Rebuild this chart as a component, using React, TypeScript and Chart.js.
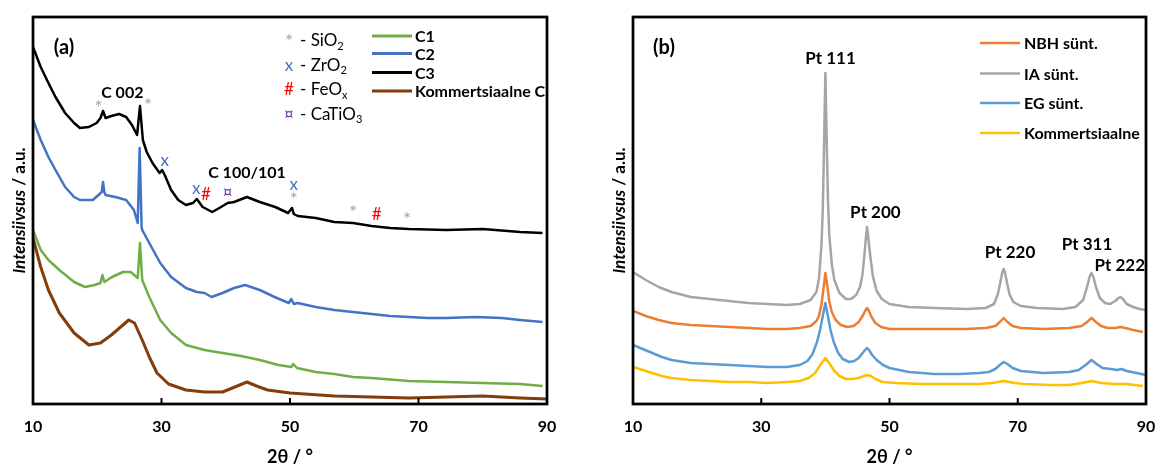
import React, { useEffect, useRef } from "react";
import { Chart, registerables } from "chart.js";
Chart.register(...registerables);

const FONT = "Lato, 'DejaVu Sans', sans-serif";

// ---------- Panel (a) data ----------
const aC1_x = [10, 11.2, 12.4, 14.1, 16.4, 18.1, 19.6, 20.5, 20.8, 21.1, 22.3, 24, 25.2, 26.3, 26.65, 27.0, 28.1, 29.8, 31.5, 33.8, 36.7, 39.5, 42.4, 45.3, 48.2, 50.2, 50.5, 51.1, 54, 56.9, 59.8, 62.7, 68.5, 74.3, 80, 85.8, 89.3];
const aC1_y = [174, 154, 144, 134, 122, 117, 119, 121, 129, 122, 127, 132, 132, 126, 161, 124, 107, 84, 71, 59, 54, 51, 48, 44, 39, 37, 40, 36, 32, 30, 27, 26, 23, 22, 21, 20, 18];

const aC2_x = [10, 11.2, 12.4, 13.5, 15, 16.4, 17.3, 19.3, 20.2, 20.7, 20.9, 21.1, 21.3, 22.8, 24.5, 25.7, 26.3, 26.6, 26.9, 27, 28.1, 29.8, 31.5, 33.8, 35.5, 36.7, 37.8, 39.5, 41.3, 43, 45.3, 47.6, 49.8, 50.2, 50.6, 51.2, 54, 56.9, 59.8, 62.7, 65.6, 68.5, 71.4, 74.3, 78.9, 83, 85.8, 89.3];
const aC2_y = [284, 264, 247, 234, 217, 207, 204, 204, 209, 212, 222, 212, 209, 207, 204, 194, 181, 256, 177, 174, 161, 141, 127, 116, 112, 111, 107, 111, 116, 119, 114, 107, 101, 105, 100, 101, 97, 94, 92, 90, 88, 87, 86, 86, 87, 86, 84, 82];

const aC3_x = [10, 11.2, 12.4, 13.5, 15, 16.4, 17.3, 18.7, 19.9, 20.5, 20.9, 21.3, 22.2, 23.4, 24.5, 25.4, 26.2, 26.65, 27.1, 27.7, 28.6, 29.7, 30.1, 30.5, 31.5, 32.6, 33.8, 34.9, 35.5, 36.4, 37.9, 39.0, 40.3, 41.3, 43.3, 45.3, 47.7, 49.7, 50.3, 50.6, 51.2, 54, 56.9, 59.8, 62.7, 65.6, 68.5, 74.3, 80, 85.8, 89.3];
const aC3_y = [357, 337, 321, 307, 291, 281, 276, 277, 281, 286, 293, 286, 288, 290, 287, 279, 269, 298, 264, 252, 241, 231, 234, 229, 214, 204, 199, 201, 205, 197, 192, 196, 201, 202, 207, 202, 197, 191, 196, 190, 188, 186, 182, 181, 178, 176, 175, 174, 175, 172, 171];

const aCK_x = [10, 11.2, 12.4, 14.1, 16.4, 18.7, 20.5, 22.2, 24, 24.9, 25.8, 27, 28.1, 29.3, 31.1, 33.8, 36.7, 39.5, 41.8, 43.3, 44.8, 46.5, 50, 56.9, 62.7, 68.5, 74.3, 80, 85.8, 90];
const aCK_y = [166, 137, 114, 91, 71, 59, 61, 69, 79, 84, 81, 64, 47, 31, 20, 14, 12, 12, 18, 22, 18, 14, 11, 8, 7, 6, 7, 8, 6, 5];

const aSeriesNames = ["C1", "C2", "C3", "Kommertsiaalne C"];
const aSeriesColors = ["#70AD47", "#4472C4", "#000000", "#843C0C"];

const aPhaseSymbols = ["*", "x", "#", "¤"];
const aPhaseNames = ["SiO", "ZrO", "FeO", "CaTiO"];
const aPhaseSubs = ["2", "2", "x", "3"];
const aPhaseColors = ["#A5A5A5", "#4472C4", "#FF0000", "#7030A0"];

const aMarkSym = ["*", "*", "x", "x", "#", "¤", "x", "*", "*", "#", "*"];
const aMarkX = [20.2, 27.9, 30.5, 35.4, 36.9, 40.3, 50.6, 50.6, 59.8, 63.5, 68.2];
const aMarkY = [299, 301, 243, 215, 209, 211, 219, 207, 194, 189, 187];

const aPeakLabels = ["C 002", "C 100/101"];
const aPeakX = [23.9, 43.3];
const aPeakY = [311, 231];

// ---------- Panel (b) data ----------
const bIA_x = [10, 12, 14, 16, 19, 22, 25, 28, 31, 34, 36, 37.7, 38.6, 39.0, 39.4, 39.6, 39.8, 40.0, 40.2, 40.4, 40.6, 41.0, 41.4, 42.2, 43.2, 44.0, 44.8, 45.4, 45.8, 46.1, 46.3, 46.5, 46.7, 47.0, 47.4, 48.0, 48.8, 50, 53, 57, 62, 65, 66.3, 66.9, 67.3, 67.6, 67.8, 68.0, 68.3, 68.7, 69.3, 70.5, 73, 77, 79, 80.2, 80.8, 81.2, 81.5, 81.8, 82.2, 82.8, 83.6, 84.4, 85.2, 85.7, 86.0, 86.4, 87.0, 88, 89, 90];
const bIA_y = [132, 124, 117, 112, 107, 105, 103, 101, 100, 99, 100, 104, 112, 125, 160, 195, 260, 331, 265, 205, 170, 140, 124, 111, 105, 105, 109, 117, 130, 150, 165, 177, 166, 148, 128, 113, 105, 100, 97, 96, 95, 96, 100, 110, 122, 132, 135, 132, 122, 110, 102, 98, 96, 95, 97, 104, 117, 127, 131, 127, 117, 106, 101, 100, 103, 106, 107, 105, 100, 97, 95, 94];

const bNBH_x = [10, 12, 14, 16, 19, 22, 25, 28, 31, 34, 36, 37.7, 38.6, 39.0, 39.4, 39.7, 40.0, 40.3, 40.6, 41.0, 41.6, 42.4, 43.4, 44.4, 45.2, 45.8, 46.2, 46.5, 46.8, 47.2, 47.8, 48.7, 50, 55, 62, 65, 66.5, 67.2, 67.8, 68.4, 69.2, 70.5, 74, 78, 80, 80.8, 81.5, 82.2, 83, 84, 85.2, 86.0, 86.8, 88, 89.5];
const bNBH_y = [93, 88, 84, 81, 79, 78, 77, 76, 75, 75, 76, 78, 83, 88, 100, 115, 131, 118, 103, 92, 84, 79, 77, 78, 82, 88, 93, 96, 93, 87, 81, 77, 75, 75, 75, 76, 78, 82, 86, 82, 78, 76, 75, 76, 78, 82, 86, 82, 78, 76, 76, 77, 76, 74, 72];

const bEG_x = [10, 11.5, 13, 14.5, 16, 19, 22, 25, 28, 31, 34, 36, 37.2, 38.0, 38.7, 39.2, 39.6, 40.0, 40.4, 40.8, 41.3, 42.0, 42.7, 43.7, 44.5, 45.2, 45.8, 46.2, 46.5, 46.8, 47.3, 48.0, 49.0, 50, 53, 57, 61, 64, 65.5, 66.5, 67.2, 67.8, 68.4, 69.2, 70.5, 74, 78, 79.5, 80.6, 81.5, 82.3, 83.2, 84.5, 85.5, 86.2, 87, 88.5, 90];
const bEG_y = [59, 55, 51, 47, 44, 41, 40, 39, 38, 37, 37, 39, 43, 50, 62, 75, 88, 101, 88, 74, 62, 51, 45, 42, 43, 46, 51, 54, 56, 54, 49, 44, 39, 36, 32, 30, 30, 31, 32, 35, 39, 42, 40, 36, 33, 31, 32, 34, 39, 44, 40, 36, 35, 34, 35, 33, 31, 29];

const bK_x = [10, 11.5, 13, 14.5, 16, 19, 22, 25, 28, 31, 34, 36, 37.4, 38.4, 39.2, 40.0, 40.7, 41.4, 42.2, 43.2, 44.2, 45.2, 46.0, 46.5, 47.1, 47.8, 48.9, 51, 55, 60, 64, 66, 67.8, 69.5, 71, 75, 78, 80, 81.5, 83, 85, 87, 89.5];
const bK_y = [37, 34, 31, 28, 26, 24, 23, 22, 22, 21, 22, 23, 26, 31, 39, 46, 40, 33, 28, 25, 25, 26, 28, 29, 28, 25, 22, 21, 20, 20, 20, 21, 23, 21, 20, 19, 19, 21, 23, 21, 20, 20, 18];

const bSeriesNames = ["NBH sünt.", "IA sünt.", "EG sünt.", "Kommertsiaalne"];
const bSeriesColors = ["#ED7D31", "#A5A5A5", "#5B9BD5", "#FFC000"];

const bPeakLabels = ["Pt 111", "Pt 200", "Pt 220", "Pt 311", "Pt 222"];
const bPeakX = [40.8, 47.8, 68.8, 80.8, 85.9];
const bPeakY = [345, 191, 151, 159, 138];

const xTicks = [10, 30, 50, 70, 90];

function pts(xs: number[], ys: number[]) {
  return xs.map((x, i) => ({ x, y: ys[i] }));
}

function drawSub(ctx: CanvasRenderingContext2D, main: string, sub: string, x: number, y: number, size: number) {
  ctx.font = `${size}px ${FONT}`;
  ctx.textAlign = "left";
  ctx.textBaseline = "middle";
  ctx.fillText(main, x, y);
  const w = ctx.measureText(main).width;
  ctx.font = `${Math.round(size * 0.65)}px ${FONT}`;
  ctx.fillText(sub, x + w, y + size * 0.3);
}

function makeConfig(panel: "a" | "b", origin: number) {
  const isA = panel === "a";
  const datasets = isA
    ? [
        { label: "C1", data: pts(aC1_x, aC1_y), borderColor: aSeriesColors[0], borderWidth: 2.5 },
        { label: "C2", data: pts(aC2_x, aC2_y), borderColor: aSeriesColors[1], borderWidth: 2.5 },
        { label: "C3", data: pts(aC3_x, aC3_y), borderColor: aSeriesColors[2], borderWidth: 2.5 },
        { label: "Kommertsiaalne C", data: pts(aCK_x, aCK_y), borderColor: aSeriesColors[3], borderWidth: 3 },
      ]
    : [
        { label: "Kommertsiaalne", data: pts(bK_x, bK_y), borderColor: bSeriesColors[3], borderWidth: 2.5 },
        { label: "EG sünt.", data: pts(bEG_x, bEG_y), borderColor: bSeriesColors[2], borderWidth: 2.5 },
        { label: "NBH sünt.", data: pts(bNBH_x, bNBH_y), borderColor: bSeriesColors[0], borderWidth: 2.5 },
        { label: "IA sünt.", data: pts(bIA_x, bIA_y), borderColor: bSeriesColors[1], borderWidth: 2.5 },
      ];

  const extras = {
    id: "extras" + panel,
    afterDatasetsDraw(chart: any) {
      const { ctx, chartArea: a, scales } = chart;
      const xs = scales.x;
      const ys = scales.y;
      ctx.save();
      // inward ticks
      ctx.strokeStyle = "#000";
      ctx.lineWidth = 2;
      for (const v of xTicks) {
        const px = xs.getPixelForValue(v);
        ctx.beginPath();
        ctx.moveTo(px, a.bottom);
        ctx.lineTo(px, a.bottom - 6);
        ctx.stroke();
      }
      // frame
      ctx.lineWidth = 2.75;
      ctx.strokeRect(a.left, a.top, a.right - a.left, a.bottom - a.top);

      // panel label
      ctx.fillStyle = "#000";
      ctx.font = `bold 20px ${FONT}`;
      ctx.textAlign = "center";
      ctx.textBaseline = "middle";
      ctx.fillText(isA ? "(a)" : "(b)", a.left + 31, a.top + 31);

      // peak labels
      ctx.font = `bold ${isA ? 16 : 17}px ${FONT}`;
      const labs = isA ? aPeakLabels : bPeakLabels;
      const lx = isA ? aPeakX : bPeakX;
      const ly = isA ? aPeakY : bPeakY;
      labs.forEach((t, i) => {
        ctx.fillText(t, xs.getPixelForValue(lx[i]), ys.getPixelForValue(ly[i]));
      });

      if (isA) {
        // phase markers
        aMarkSym.forEach((s, i) => {
          const k = aPhaseSymbols.indexOf(s);
          ctx.fillStyle = aPhaseColors[k];
          ctx.font = `${s === "*" ? 19 : 17}px ${FONT}`;
          ctx.textAlign = "center";
          ctx.textBaseline = "middle";
          const dy = s === "*" ? 3 : 0;
          ctx.fillText(s, xs.getPixelForValue(aMarkX[i]), ys.getPixelForValue(aMarkY[i]) + dy);
        });
        // phase legend
        aPhaseSymbols.forEach((s, i) => {
          const y = 41 + i * 24.5;
          ctx.fillStyle = aPhaseColors[i];
          ctx.font = `${s === "*" ? 19 : 17}px ${FONT}`;
          ctx.textAlign = "center";
          ctx.textBaseline = "middle";
          ctx.fillText(s, 289, y + (s === "*" ? 1 : 0));
          ctx.fillStyle = "#000";
          drawSub(ctx, "- " + aPhaseNames[i], aPhaseSubs[i], 300, y, 17);
        });
        // series legend
        const ly2 = [36, 53.5, 72.5, 91];
        aSeriesNames.forEach((n, i) => {
          ctx.strokeStyle = aSeriesColors[i];
          ctx.lineWidth = 3;
          ctx.beginPath();
          ctx.moveTo(372, ly2[i]);
          ctx.lineTo(412, ly2[i]);
          ctx.stroke();
          ctx.fillStyle = "#000";
          ctx.font = `bold 16px ${FONT}`;
          ctx.textAlign = "left";
          ctx.textBaseline = "middle";
          ctx.fillText(n, 415, ly2[i] + 1);
        });
      } else {
        const ly2 = [43, 73.5, 103, 133];
        bSeriesNames.forEach((n, i) => {
          ctx.strokeStyle = bSeriesColors[i];
          ctx.lineWidth = 2.5;
          ctx.beginPath();
          ctx.moveTo(980 - origin, ly2[i]);
          ctx.lineTo(1020 - origin, ly2[i]);
          ctx.stroke();
          ctx.fillStyle = "#000";
          ctx.font = `bold 16px ${FONT}`;
          ctx.textAlign = "left";
          ctx.textBaseline = "middle";
          ctx.fillText(n, 1024 - origin, ly2[i] + 1);
        });
      }

      // y title
      const cx = a.left - 13.5;
      const cy = (a.top + a.bottom) / 2;
      ctx.translate(cx, cy);
      ctx.rotate(-Math.PI / 2);
      ctx.fillStyle = "#000";
      ctx.textBaseline = "middle";
      ctx.textAlign = "left";
      const f1 = `italic bold 17px ${FONT}`;
      const f2 = `bold 17px ${FONT}`;
      ctx.font = f1;
      const w1 = ctx.measureText("Intensiivsus").width;
      ctx.font = f2;
      const w2 = ctx.measureText(" / a.u.").width;
      const x0 = -(w1 + w2) / 2;
      ctx.font = f1;
      ctx.fillText("Intensiivsus", x0, 0);
      ctx.font = f2;
      ctx.fillText(" / a.u.", x0 + w1, 0);
      ctx.restore();
    },
  };

  return {
    type: "scatter" as const,
    data: {
      datasets: datasets.map((d) => ({
        ...d,
        showLine: true,
        pointRadius: 0,
        pointHoverRadius: 0,
        fill: false,
        tension: 0,
        borderJoinStyle: "round" as const,
      })),
    },
    options: {
      animation: false as const,
      responsive: false,
      devicePixelRatio: 1,
      events: [],
      layout: {
        padding: isA ? { left: 33, right: 33, top: 17, bottom: 0 } : { left: 53, right: 34, top: 17, bottom: 0 },
      },
      plugins: { legend: { display: false }, tooltip: { enabled: false }, title: { display: false } },
      scales: {
        x: {
          type: "linear" as const,
          min: 10,
          max: 90,
          afterFit(s: any) {
            s.height = 64;
          },
          ticks: {
            stepSize: 20,
            color: "#000",
            padding: 13,
            font: { family: FONT, size: 16, weight: "bold" as const },
          },
          grid: { display: false, drawTicks: false },
          border: { display: false },
          title: {
            display: true,
            text: "2θ / °",
            color: "#000",
            font: { family: FONT, size: 18, weight: "bold" as const },
            padding: { top: 0, bottom: 0 },
          },
        },
        y: {
          type: "linear" as const,
          min: 0,
          max: 387,
          display: false,
        },
      },
    },
    plugins: [extras],
  };
}

function Panel({ panel, left, width }: { panel: "a" | "b"; left: number; width: number }) {
  const ref = useRef<HTMLCanvasElement | null>(null);
  useEffect(() => {
    if (!ref.current) return;
    const chart = new Chart(ref.current, makeConfig(panel, left) as any);
    return () => chart.destroy();
  }, [panel, left]);
  return (
    <canvas
      ref={ref}
      width={width}
      height={468}
      style={{ position: "absolute", left, top: 0, width, height: 468, display: "block" }}
    />
  );
}

export default function App() {
  return (
    <div style={{ position: "absolute", left: 0, top: 0, width: 1159, height: 468, background: "#fff", overflow: "hidden" }}>
      <Panel panel="a" left={0} width={580} />
      <Panel panel="b" left={580} width={600} />
    </div>
  );
}
